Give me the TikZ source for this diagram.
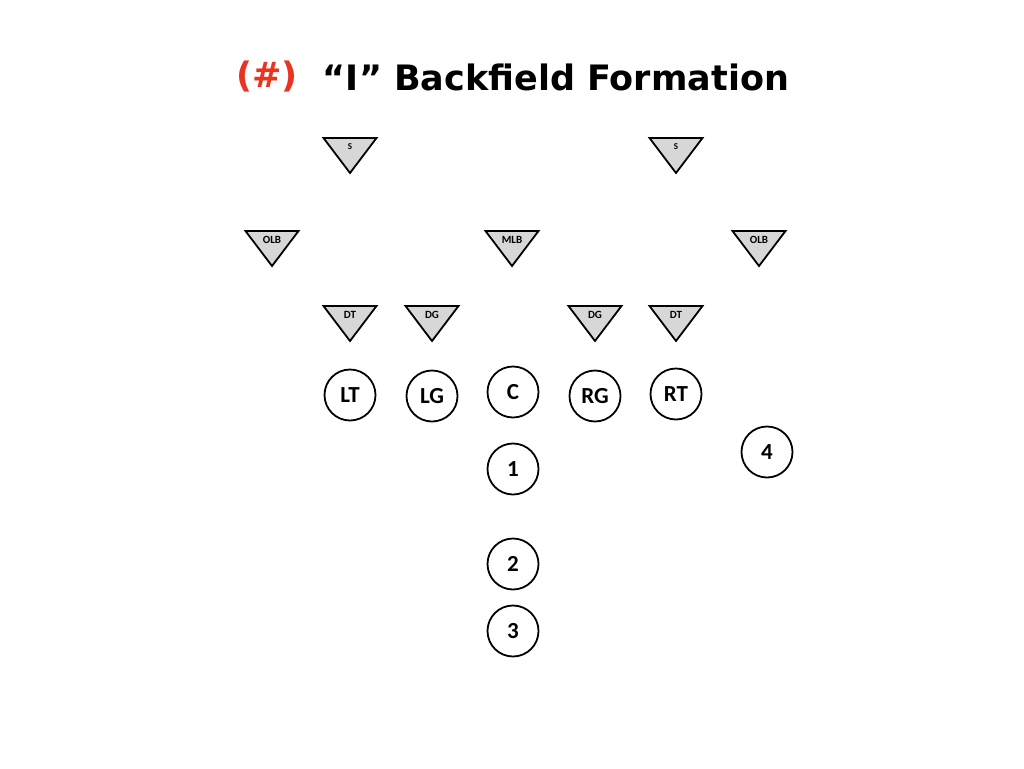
\documentclass[tikz,border=0pt]{standalone}
\usepackage{fontspec}
\setmainfont{DejaVu Sans}
\newfontfamily\calfont{Carlito}
\definecolor{hashred}{RGB}{232,52,32}
\definecolor{defgray}{RGB}{215,215,215}
\tikzset{
	player/.style={circle, draw, line width=1.8pt, minimum size=51pt, inner sep=0pt, font=\calfont\bfseries\fontsize{23}{23}\selectfont},
	defender/.style={draw, fill=defgray, line width=1.8pt, line join=miter},
	deflabel/.style={inner sep=0pt, font=\calfont\bfseries\fontsize{11}{11}\selectfont},
	heading/.style={inner sep=0pt, font=\bfseries\fontsize{35}{35}\selectfont},
}
% name, x, y, label
\newcommand\Defender[4]{
	\begin{scope}[shift = {(#2,#3)}]
		\draw[defender] (-26.5,0) -- (26.5,0) -- (0,35) -- cycle;
		\node[deflabel] (#1) at (0,9) {#4};
	\end{scope}
	}

\begin{document}
\begin{tikzpicture}[x=1pt,y=-1pt]
\useasboundingbox (0,0) rectangle (1024,768);

% title
\node[heading, text=hashred] (hash) at (267,77) {(\#)};
\node[heading] (title) at (556,77) {“I” Backfield Formation};

% defence
\Defender{sl}{350}{138}{\fontsize{9}{9}\selectfont S}
\Defender{sr}{676}{138}{\fontsize{9}{9}\selectfont S}
\Defender{olbl}{272}{231}{OLB}
\Defender{mlb}{512}{231}{MLB}
\Defender{olbr}{759}{231}{OLB}
\Defender{dtl}{350}{306}{DT}
\Defender{dgl}{432}{306}{DG}
\Defender{dgr}{595}{306}{DG}
\Defender{dtr}{676}{306}{DT}

% offensive line
\node[player] (lt) at (350,395) {LT};
\node[player] (lg) at (432,396) {LG};
\node[player] (c)  at (513,392) {C};
\node[player] (rg) at (595,396) {RG};
\node[player] (rt) at (676,394) {RT};

% backs
\node[player] (b1) at (513,469) {1};
\node[player] (b2) at (513,564) {2};
\node[player] (b3) at (513,631) {3};
\node[player] (b4) at (767,452) {4};

\end{tikzpicture}
\end{document}
